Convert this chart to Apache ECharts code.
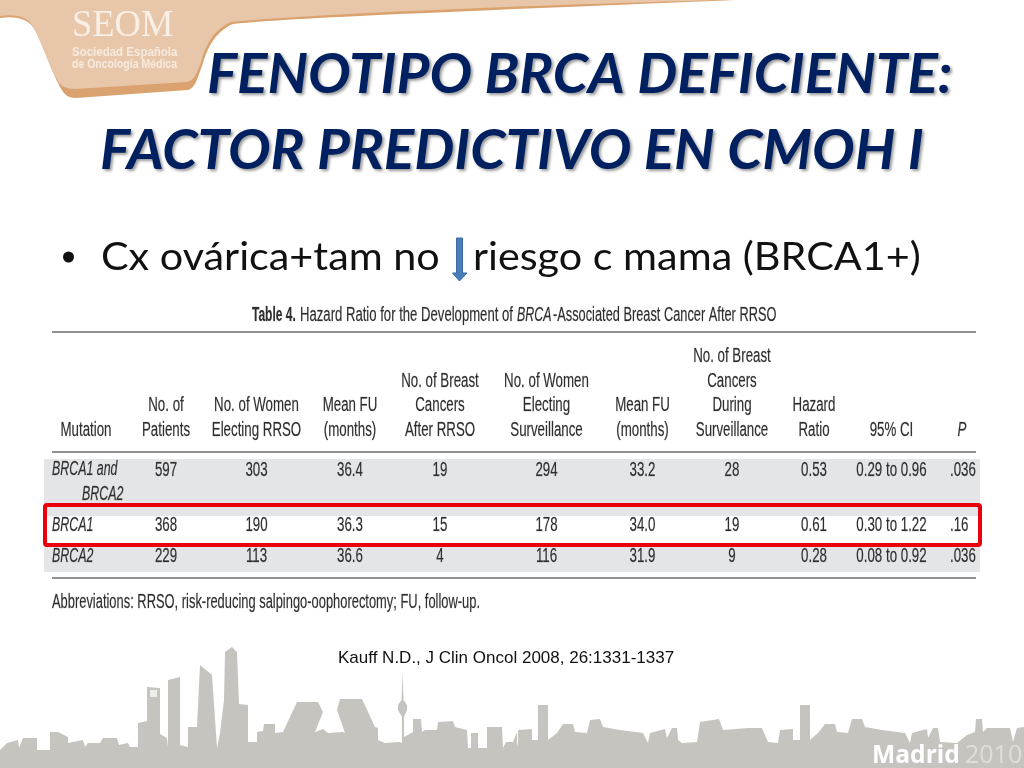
<!DOCTYPE html>
<html><head><meta charset="utf-8">
<style>html,body{margin:0;padding:0;background:#fff}#c{width:1024px;height:768px}</style>
<script src="https://cdn.jsdelivr.net/npm/echarts@6/dist/echarts.min.js"></script>
</head><body><div id="c"></div>
<script>
const titleLines = ['FENOTIPO BRCA DEFICIENTE:', 'FACTOR PREDICTIVO EN CMOH I'];
const bulletLeft = 'Cx ovárica+tam no';
const bulletRight = 'riesgo c mama (BRCA1+)';
const tableCaptionBold = 'Table 4.';
const tableCaption1 = 'Hazard Ratio for the Development of';
const tableCaptionItalic = 'BRCA';
const tableCaption2 = '-Associated Breast Cancer After RRSO';
const columnHeaders = [
  ['Mutation'],
  ['No. of', 'Patients'],
  ['No. of Women', 'Electing RRSO'],
  ['Mean FU', '(months)'],
  ['No. of Breast', 'Cancers', 'After RRSO'],
  ['No. of Women', 'Electing', 'Surveillance'],
  ['Mean FU', '(months)'],
  ['No. of Breast', 'Cancers', 'During', 'Surveillance'],
  ['Hazard', 'Ratio'],
  ['95% CI'],
  ['P']
];
const rowBoth = ['BRCA1 and', '597', '303', '36.4', '19', '294', '33.2', '28', '0.53', '0.29 to 0.96', '.036'];
const rowBothSecondLine = 'BRCA2';
const rowBrca1 = ['BRCA1', '368', '190', '36.3', '15', '178', '34.0', '19', '0.61', '0.30 to 1.22', '.16'];
const rowBrca2 = ['BRCA2', '229', '113', '36.6', '4', '116', '31.9', '9', '0.28', '0.08 to 0.92', '.036'];
const abbreviations = 'Abbreviations: RRSO, risk-reducing salpingo-oophorectomy; FU, follow-up.';
const citation = 'Kauff N.D., J Clin Oncol 2008, 26:1331-1337';

// layout
const colX = [0, 166, 256.5, 350, 440, 546.5, 642.5, 732, 814, 891.5, 962];
const headLineY = [356, 381, 405, 430];
const rowY = [470, 525.5, 556.5];
const NARROW = '"Liberation Sans Narrow","Liberation Sans"';
const SCALE_X = 0.665;
const SKY = '#c5c4be';
const skylineTop = [
[0,750],[7,743],[18,740],[19,748],[23,738],[37,738],[37,750],[50,750],[50,732],[58,732],[60,733],[68,737],[68,743],[83,740],[85,747],[88,743],[100,743],[103,738],[117,738],[119,745],[128,743],[130,747],[138,747],[138,723],[147,721],[147,687],[160,688],[160,734],[167,738],[168,747],[168,680],[180,677],[180,745],[188,747],[188,727],[197,727],[200,665],[212,675],[217,748],[220,733],[224,700],[225,652],[232,647],[237,652],[239,704],[248,705],[248,742],[257,742],[257,732],[263,731],[264,724],[275,724],[275,733],[283,732],[297,702],[318,702],[323,712],[315,732],[323,729],[328,733],[343,732],[345,733],[337,710],[340,699],[362,699],[375,727],[378,728],[378,740],[385,743],[400,742],[402,743],[402,717],[398,710],[398,705],[401.5,700],[402.5,673],[403.5,700],[407,705],[407,710],[404,717],[404,737],[413,732],[413,719],[421,719],[422,732],[425,730],[437,730],[438,722],[453,721],[455,727],[467,730],[468,748],[471,748],[471,733],[478,733],[478,748],[487,748],[487,727],[502,727],[503,748],[506,742],[513,742],[517,732],[517,742],[518,747],[518,730],[532,729],[532,740],[538,740],[538,705],[548,705],[548,740],[557,733],[563,724],[573,724],[575,732],[587,733],[590,720],[600,719],[603,727],[620,730],[643,733],[648,743],[650,733],[665,729],[667,738],[672,728],[677,728],[678,740],[682,743],[697,742],[700,722],[719,719],[723,730],[748,728],[762,728],[768,742],[778,743],[780,730],[793,729],[793,740],[800,740],[800,705],[810,705],[810,740],[818,733],[825,724],[835,724],[837,732],[848,733],[852,719],[862,719],[865,727],[882,730],[905,733],[910,743],[912,733],[927,729],[928,738],[933,728],[938,728],[940,742],[957,743],[967,735],[975,732],[976,719],[982,719],[983,732],[987,728],[1010,728],[1013,742],[1017,728],[1024,727]
];

function t(text, x, y, o) {
  o = o || {};
  const isTable = !o.family;
  return {
    type: 'text', x: x, y: y, scaleX: o.sx === undefined ? SCALE_X : o.sx, z: o.z || 5,
    style: {
      text: text, x: 0, y: 0, align: o.align || 'center', verticalAlign: 'middle',
      font: (o.style || '') + ' ' + (o.weight || '') + ' ' + (o.size || 20) + 'px ' + (o.family || NARROW),
      fill: o.fill || '#2e2e2e',
      stroke: isTable ? 'rgba(46,46,46,0.45)' : undefined, lineWidth: isTable ? 0.4 : 0,
      textShadowColor: o.sc, textShadowBlur: o.sb || 0, textShadowOffsetX: o.so || 0, textShadowOffsetY: o.so || 0
    }
  };
}
function rect(x, y, w, h, fill) { return {type:'rect', shape:{x,y,width:w,height:h}, style:{fill}, z:1}; }
let pathCount = 0;
function pathEl(d, style, z) {
  const name = 'slidePath' + (pathCount++);
  echarts.graphic.registerShape(name, echarts.graphic.extendPath(d, {}));
  return {type:name, style, z};
}

const g = [];
// banner
g.push(pathEl('M0 18 C14 16 26 18 33 27 C40 37 52 72 58 83 C63 93 66 98 76 98 L188 90 C195 88 197 80 203 63 C207 50 214 32 233 24 C300 17 500 10 735 0 L0 0Z', {fill:'#d9a26e'}, 1));
g.push(pathEl('M0 16 C14 14 26 16 32 25 C39 35 50 68 56 78 C60 85 64 89 75 89 L187 82 C193 81 197 74 201 62 C205 48 212 30 231 22 C300 15 500 6 722 0 L0 0Z', {fill:'#e8c6a9'}, 2));
g.push(t('SEOM', 72, 26, {align:'left', size:38, family:'"Liberation Serif"', fill:'#f8efe6', sx:0.96}));
g.push(t('Sociedad Española', 72, 53, {align:'left', size:12.5, weight:'bold', family:'"Liberation Sans"', fill:'#f6ebe0', sx:0.92}));
g.push(t('de Oncología Médica', 72, 65, {align:'left', size:12, weight:'bold', family:'"Liberation Sans"', fill:'#f6ebe0', sx:0.875}));
// title
const titleOpts = {style:'italic', weight:'bold', size:55, family:'Lato', fill:'#002060', sc:'rgba(0,0,0,0.4)', sb:3, so:2, align:'left', sx:1.03};
g.push(t(titleLines[0], 207, 75, titleOpts));
g.push(t(titleLines[1], 100, 151, titleOpts));
// bullet
g.push({type:'circle', shape:{cx:68.5, cy:257, r:5.5}, style:{fill:'#111'}, z:5});
g.push(t(bulletLeft, 101, 258, {size:38, family:'Lato', fill:'#111', align:'left', sx:1.088}));
g.push(t(bulletRight, 473, 258, {size:38, family:'Lato', fill:'#111', align:'left', sx:1.088}));
g.push({type:'polygon', z:5, shape:{points:[[456.5,238],[462.5,238],[462.5,273],[467,273],[459.5,281],[452.5,273],[456.5,273]]}, style:{fill:'#4a7ebb', stroke:'#3a6a9e', lineWidth:1}});
// caption
g.push(t(tableCaptionBold, 252, 315, {align:'left', weight:'bold', sx:0.6}));
g.push(t(tableCaption1, 300, 315, {align:'left', sx:0.656}));
g.push(t(tableCaptionItalic, 517, 315, {align:'left', style:'italic', sx:0.62}));
g.push(t(tableCaption2, 553, 315, {align:'left', sx:0.64}));
// table bands and rules
g.push(rect(44, 459, 936, 86, '#e4e5e7'));
g.push(rect(44, 516, 936, 29, '#ffffff'));
g.push(rect(44, 545, 936, 27, '#e4e5e7'));
[332, 452, 578].forEach(y => g.push({type:'line', z:3, shape:{x1:52,y1:y,x2:976,y2:y}, style:{stroke:'#222', lineWidth:1.2}}));
// headers
columnHeaders.forEach((lines, c) => {
  lines.forEach((s, i) => {
    const y = headLineY[4 - lines.length + i];
    if (c === 0) g.push(t(s, 86, y));
    else if (c === 10) g.push(t(s, colX[c], y, {style:'italic'}));
    else g.push(t(s, colX[c], y));
  });
});
// rows
[rowBoth, rowBrca1, rowBrca2].forEach((row, r) => {
  row.forEach((s, c) => {
    if (c === 0) g.push(t(s, 52, rowY[r] - 0.5, {align:'left', style:'italic', sx:0.62}));
    else if (c === 10) g.push(t(s, 950, rowY[r], {align:'left'}));
    else g.push(t(s, colX[c], rowY[r]));
  });
});
g.push(t(rowBothSecondLine, 82, 494, {align:'left', style:'italic', sx:0.62}));
g.push(t(abbreviations, 52, 602, {align:'left', sx:0.645}));
// red frame
g.push({type:'rect', z:6, shape:{x:45,y:505,width:935,height:40,r:2}, style:{fill:'none', stroke:'#e8000b', lineWidth:4}});
// citation
g.push(t(citation, 338, 658, {align:'left', size:17, family:'"Liberation Sans"', fill:'#111', sx:1, z:8}));
// skyline
g.push({type:'polygon', z:4, shape:{points:skylineTop.concat([[1024,768],[0,768]])}, style:{fill:SKY}});
g.push({type:'rect', z:4, shape:{x:150,y:690,width:7,height:7}, style:{fill:'#eeeeea'}});
g.push(t('Madrid', 872, 756, {align:'left', size:25, weight:'bold', family:'"Open Sans"', fill:'#ffffff', sx:0.985, z:7}));
g.push(t('2010', 965, 756, {align:'left', size:25, family:'"Open Sans"', fill:'#dfded9', sx:1, z:7}));

const chart = echarts.init(document.getElementById('c'), null, {renderer:'canvas'});
chart.setOption({animation:false, backgroundColor:'#fff', graphic:{elements:g}});
</script></body></html>
